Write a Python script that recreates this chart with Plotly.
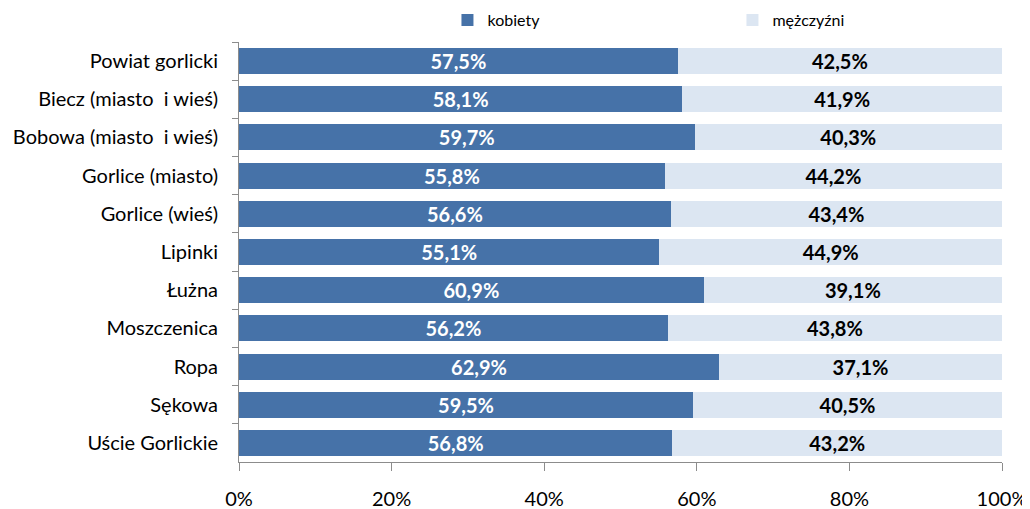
import plotly.graph_objects as go

categories = ["Powiat gorlicki", "Biecz (miasto  i wieś)", "Bobowa (miasto  i wieś)",
              "Gorlice (miasto)", "Gorlice (wieś)", "Lipinki", "Łużna", "Moszczenica",
              "Ropa", "Sękowa", "Uście Gorlickie"]
kobiety = [57.5, 58.1, 59.7, 55.8, 56.6, 55.1, 60.9, 56.2, 62.9, 59.5, 56.8]
mezczyzni = [42.5, 41.9, 40.3, 44.2, 43.4, 44.9, 39.1, 43.8, 37.1, 40.5, 43.2]
x_ticks = [0, 20, 40, 60, 80, 100]

FONT = "Lato"

fig = go.Figure()
fig.add_trace(go.Bar(
    y=categories, x=kobiety, orientation="h", name="kobiety",
    marker=dict(color="#4672A8", line=dict(width=0)),
    texttemplate="<b>%{x:.1f}%</b>", textposition="inside", insidetextanchor="middle",
    constraintext="none", textangle=0,
    textfont=dict(color="white", size=20, family=FONT),
))
fig.add_trace(go.Bar(
    y=categories, x=mezczyzni, orientation="h", name="mężczyźni",
    marker=dict(color="#DCE6F2", line=dict(width=0)),
    texttemplate="<b>%{x:.1f}%</b>", textposition="inside", insidetextanchor="middle",
    constraintext="none", textangle=0,
    textfont=dict(color="black", size=20, family=FONT),
))

# page body has an 8px margin, so the figure is sized/margined to compensate
fig.update_layout(
    barmode="stack",
    bargap=0.32,
    width=1022, height=501,
    margin=dict(l=231, r=28, t=34, b=47, autoexpand=False),
    paper_bgcolor="white", plot_bgcolor="white",
    separators=", ",
    font=dict(family=FONT, size=20, color="black"),
    legend=dict(orientation="h", xref="container", yref="container",
                x=0.43, xanchor="left", y=0.976, yanchor="middle",
                entrywidth=240, entrywidthmode="pixels",
                font=dict(size=16, family=FONT), itemwidth=30,
                traceorder="normal"),
    showlegend=True,
)
fig.update_xaxes(range=[0, 100], tickvals=x_ticks, ticktext=[f"{v}%" for v in x_ticks],
                 showgrid=False, zeroline=False, showline=True, linecolor="#8c8c8c",
                 ticks="outside", ticklen=8, tickcolor="#8c8c8c", automargin=False,
                 tickfont=dict(size=20, family=FONT), ticklabelstandoff=11)
fig.update_yaxes(autorange="reversed", showgrid=False, showline=True, linecolor="#8c8c8c",
                 ticks="outside", ticklen=6, tickcolor="#8c8c8c", tickson="boundaries",
                 automargin=False,
                 tickfont=dict(size=20, family=FONT), ticklabelstandoff=16)

fig.write_html("out.html")
